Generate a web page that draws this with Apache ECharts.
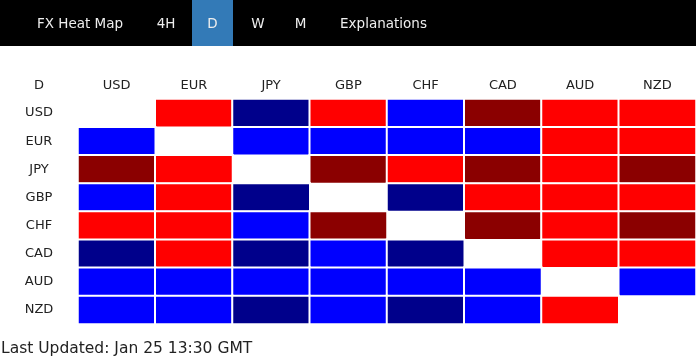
<!DOCTYPE html>
<html>
<head>
<meta charset="utf-8">
<script src="https://cdn.jsdelivr.net/npm/echarts@6/dist/echarts.min.js"></script>
<style>
html,body{margin:0;padding:0;background:#fff;}
#main{width:696px;height:360px;}
</style>
</head>
<body>
<div id="main"></div>
<script>
// Currencies (columns = quote, rows = base)
var currencies = ['USD', 'EUR', 'JPY', 'GBP', 'CHF', 'CAD', 'AUD', 'NZD'];
// Strength levels: -2 strong down (dark red), -1 down (red), 1 up (blue), 2 strong up (navy); null = diagonal
var rowUSD = [null, -1, 2, -1, 1, -2, -1, -1];
var rowEUR = [1, null, 1, 1, 1, 1, -1, -1];
var rowJPY = [-2, -1, null, -2, -1, -2, -1, -2];
var rowGBP = [1, -1, 2, null, 2, -1, -1, -1];
var rowCHF = [-1, -1, 1, -2, null, -2, -1, -2];
var rowCAD = [2, -1, 2, 1, 2, null, -1, -1];
var rowAUD = [1, 1, 1, 1, 1, 1, null, 1];
var rowNZD = [1, 1, 2, 1, 2, 1, -1, null];
var tabs = ['FX Heat Map', '4H', 'D', 'W', 'M', 'Explanations'];
var activeTab = 'D';
var timeframe = 'D';
var lastUpdated = 'Last Updated: Jan 25 13:30 GMT';

var rows = [rowUSD, rowEUR, rowJPY, rowGBP, rowCHF, rowCAD, rowAUD, rowNZD];
var data = [];
rows.forEach(function (r, i) {
  r.forEach(function (v, j) {
    if (v !== null) data.push([j, i, v]);
  });
});

var FONT = '"DejaVu Sans", Verdana, sans-serif';
var tabCenters = [80, 166, 212.5, 258, 300.5, 383.5];
var graphics = [
  { type: 'rect', left: 0, top: 0, shape: { width: 696, height: 46 }, style: { fill: '#000' }, silent: true },
  { type: 'rect', left: 192, top: 0, shape: { width: 41, height: 46 }, style: { fill: '#337ab7' }, silent: true }
];
tabs.forEach(function (t, i) {
  graphics.push({
    type: 'text', x: tabCenters[i], y: 24,
    style: { text: t, fill: '#eeeeee', font: '13.5px ' + FONT, align: 'center', verticalAlign: 'middle' }
  });
});
graphics.push({
  type: 'text', x: 39, y: 86,
  style: { text: timeframe, fill: '#222', font: '13px ' + FONT, align: 'center', verticalAlign: 'middle' }
});
graphics.push({
  type: 'text', x: 1, y: 349,
  style: { text: lastUpdated, fill: '#222', font: '15.5px ' + FONT, align: 'left', verticalAlign: 'middle' }
});

var chart = echarts.init(document.getElementById('main'), null, { renderer: 'canvas' });
chart.setOption({
  animation: false,
  backgroundColor: '#fff',
  grid: { left: 78, right: 0, top: 99, height: 225 },
  xAxis: {
    type: 'category', data: currencies, position: 'top',
    axisLine: { show: false }, axisTick: { show: false }, splitLine: { show: false },
    axisLabel: { color: '#222', fontFamily: FONT, fontSize: 13, margin: 13, verticalAlign: 'middle' }
  },
  yAxis: {
    type: 'category', data: currencies, inverse: true,
    axisLine: { show: false }, axisTick: { show: false }, splitLine: { show: false },
    axisLabel: { color: '#222', fontFamily: FONT, fontSize: 13, margin: 39, align: 'center' }
  },
  visualMap: {
    type: 'piecewise', show: false, dimension: 2,
    pieces: [
      { value: -2, color: '#8b0000' },
      { value: -1, color: '#ff0000' },
      { value: 1, color: '#0000ff' },
      { value: 2, color: '#00008b' }
    ]
  },
  series: [{
    type: 'heatmap', data: data,
    itemStyle: { borderColor: '#fff', borderWidth: 2 },
    emphasis: { disabled: true }
  }],
  graphic: graphics
});
</script>
</body>
</html>
